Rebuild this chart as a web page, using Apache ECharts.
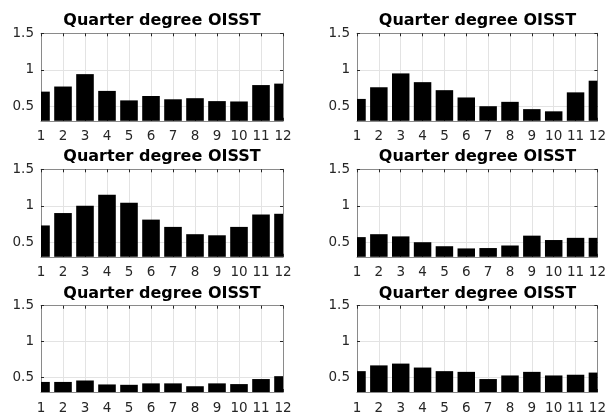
<!DOCTYPE html>
<html><head><meta charset="utf-8">
<script src="https://cdn.jsdelivr.net/npm/echarts@6/dist/echarts.min.js"></script>
<style>html,body{margin:0;padding:0;background:#fff}#c{width:609px;height:415px}</style>
</head><body><div id="c"></div>
<script>
const months = [1,2,3,4,5,6,7,8,9,10,11,12];
const panelTitle = 'Quarter degree OISST';
const yTickValues = [0.5, 1, 1.5];
const s1 = [0.70,0.77,0.94,0.71,0.58,0.64,0.595,0.61,0.57,0.565,0.79,0.81];
const s2 = [0.60,0.76,0.95,0.83,0.72,0.62,0.50,0.56,0.46,0.43,0.69,0.85];
const s3 = [0.73,0.90,1.00,1.15,1.04,0.81,0.71,0.61,0.595,0.71,0.88,0.89];
const s4 = [0.57,0.61,0.58,0.50,0.445,0.415,0.42,0.455,0.59,0.53,0.56,0.56];
const s5 = [0.44,0.44,0.46,0.405,0.40,0.42,0.42,0.38,0.42,0.41,0.48,0.52];
const s6 = [0.59,0.67,0.695,0.64,0.59,0.58,0.48,0.53,0.58,0.53,0.54,0.57];
const panels = [s1,s2,s3,s4,s5,s6];

const colLeft = [41, 357], colWidth = [242, 241];
const rowTop = [33.3, 169.3, 305.7], rowH = 87.5;
const lab = '#262626', axisGray = '#8a8a8a', gridGray = '#e3e3e3';
const font = 'DejaVu Sans';
const barFrac = 0.8;

function renderBar(params, api) {
  const x = api.value(0), y = api.value(1);
  const top = api.coord([x, y]);
  const base = api.coord([x, 0]);
  const w = api.size([barFrac, 0])[0];
  const cs = params.coordSys;
  const r = echarts.graphic.clipRectByRect(
    {x: top[0] - w / 2, y: top[1], width: w, height: base[1] - top[1]},
    {x: cs.x, y: cs.y, width: cs.width, height: cs.height});
  return r ? {type: 'rect', shape: r, style: {fill: '#000'}} : null;
}

const grid = [], xAxis = [], yAxis = [], series = [], title = [];
panels.forEach((vals, i) => {
  const c = i % 2, r = Math.floor(i / 2);
  grid.push({left: colLeft[c], top: rowTop[r], width: colWidth[c], height: rowH, containLabel: false});
  title.push({text: panelTitle, left: colLeft[c] + colWidth[c] / 2, top: rowTop[r] - 20, textAlign: 'center', padding: 0,
    textStyle: {fontFamily: font, fontSize: 16, fontWeight: 'bold', color: '#000'}});
  xAxis.push({type: 'value', gridIndex: i, min: 1, max: 12, interval: 1, position: 'bottom',
    axisLine: {show: true, onZero: false, lineStyle: {color: axisGray, width: 1}},
    axisTick: {show: true, inside: true, length: 3, lineStyle: {color: lab}},
    axisLabel: {color: lab, fontFamily: font, fontSize: 13.5, margin: 9},
    splitLine: {show: true, lineStyle: {color: gridGray, width: 1}}});
  xAxis.push({type: 'value', gridIndex: i, min: 1, max: 12, interval: 1, position: 'top',
    axisLine: {show: true, onZero: false, lineStyle: {color: axisGray, width: 1}},
    axisTick: {show: true, inside: true, length: 3, lineStyle: {color: lab}},
    axisLabel: {show: false}, splitLine: {show: false}});
  yAxis.push({type: 'value', gridIndex: i, min: 0.3, max: 1.5, position: 'left',
    axisLine: {show: true, onZero: false, lineStyle: {color: axisGray, width: 1}},
    axisTick: {show: true, inside: true, length: 3, customValues: yTickValues, lineStyle: {color: lab}},
    axisLabel: {color: lab, fontFamily: font, fontSize: 13.5, margin: 7, customValues: yTickValues,
      formatter: v => String(v)},
    splitLine: {show: true, lineStyle: {color: gridGray, width: 1}}});
  yAxis.push({type: 'value', gridIndex: i, min: 0.3, max: 1.5, position: 'right',
    axisLine: {show: true, onZero: false, lineStyle: {color: axisGray, width: 1}},
    axisTick: {show: true, inside: true, length: 3, customValues: yTickValues, lineStyle: {color: lab}},
    axisLabel: {show: false}, splitLine: {show: false}});
  series.push({type: 'custom', xAxisIndex: 2 * i, yAxisIndex: 2 * i, renderItem: renderBar, z: 2,
    encode: {x: 0, y: 1}, data: months.map((m, k) => [m, vals[k]])});
});

const chart = echarts.init(document.getElementById('c'), null, {renderer: 'canvas'});
chart.setOption({animation: false, backgroundColor: '#fff', title, grid, xAxis, yAxis, series});
</script>
</body></html>
